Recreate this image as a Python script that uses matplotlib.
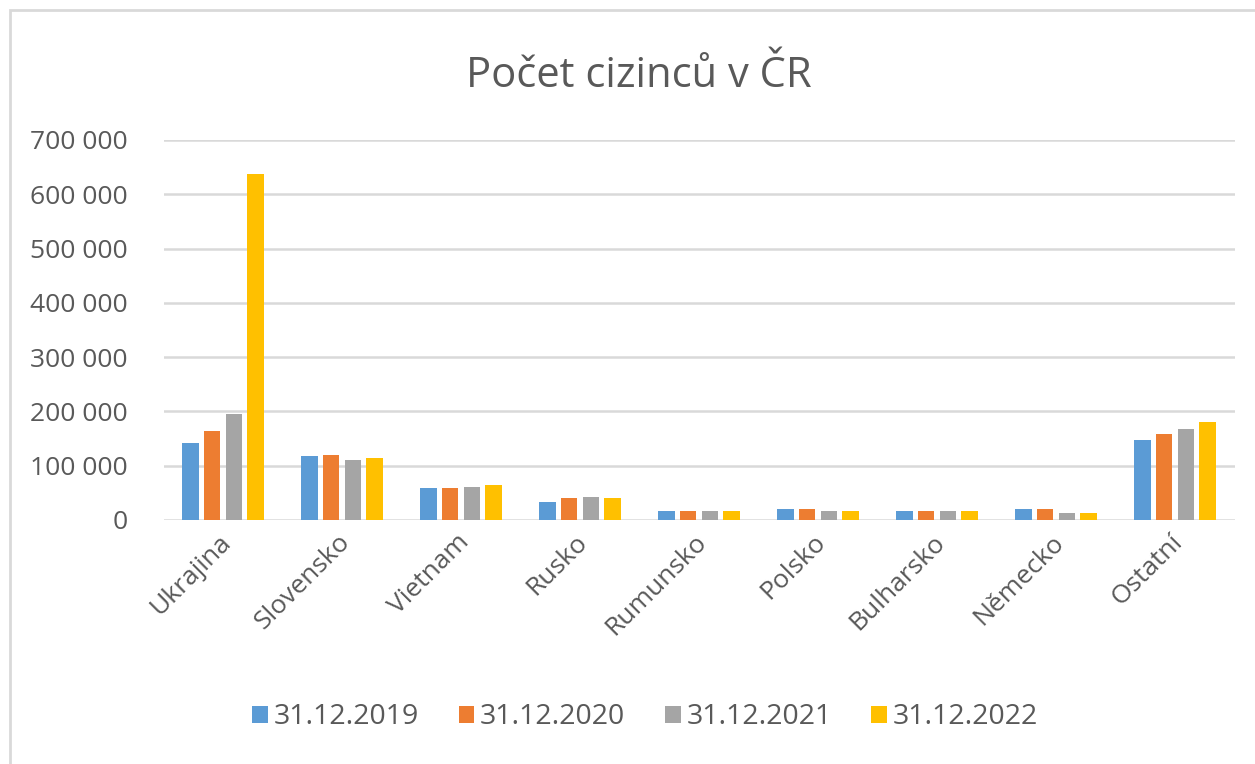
import numpy as np
import matplotlib
matplotlib.use("Agg")
import matplotlib.pyplot as plt
from matplotlib.patches import Rectangle
from matplotlib.ticker import FuncFormatter

plt.rcParams['font.family'] = ['Open Sans', 'DejaVu Sans']

# data
zeme = ['Ukrajina', 'Slovensko', 'Vietnam', 'Rusko', 'Rumunsko',
        'Polsko', 'Bulharsko', 'Německo', 'Ostatní']
roky = ['31.12.2019', '31.12.2020', '31.12.2021', '31.12.2022']
hodnoty_2019 = [142000, 117000, 58000, 34000, 17000, 20000, 17000, 20000, 148000]
hodnoty_2020 = [163000, 120000, 58000, 40000, 17000, 20000, 17000, 20000, 158000]
hodnoty_2021 = [196000, 111000, 61000, 43000, 17000, 17000, 17000, 12500, 168000]
hodnoty_2022 = [637000, 114000, 65000, 40000, 17000, 17000, 17000, 12500, 180000]
serie = [hodnoty_2019, hodnoty_2020, hodnoty_2021, hodnoty_2022]
barvy = ['#5B9BD5', '#ED7D31', '#A5A5A5', '#FFC000']

text_col = '#595959'

fig = plt.figure(figsize=[12.55, 7.64], dpi=100)
# outer chart frame
fig.patches.append(Rectangle((10 / 1255, -0.01), 1.0, 1 - 10 / 764 + 0.01,
                             transform=fig.transFigure, fill=False,
                             edgecolor='#D9D9D9', linewidth=2))

ax = fig.add_axes([0.1303, 0.3194, 0.8534, 0.4974])

x = np.arange(len(zeme))
krok = 0.182
sirka = 0.139
for i, (vals, c, lab) in enumerate(zip(serie, barvy, roky)):
    ax.bar(x + (i - 1.5) * krok, vals, width=sirka, color=c, label=lab, zorder=3)

ax.set_xlim(-0.5, len(zeme) - 0.5)
ax.set_ylim(0, 700000)
ax.set_yticks(np.arange(0, 700001, 100000))
ax.yaxis.set_major_formatter(FuncFormatter(lambda v, p: f"{int(v):,}".replace(',', ' ')))
ax.grid(axis='y', color='#D9D9D9', linewidth=1.8, zorder=0)
for s in ax.spines.values():
    s.set_visible(False)
ax.tick_params(axis='y', length=0, pad=26, labelsize=19, labelcolor=text_col)
ax.tick_params(axis='x', length=0, pad=7, labelsize=19, labelcolor=text_col)
ax.set_xticks(x - 0.04)
ax.set_xticklabels(zeme, rotation=45, ha='right', rotation_mode='anchor')

fig.text(0.509, 0.9, 'Počet cizinců v ČR', ha='center', va='center',
         fontsize=30, color=text_col)

leg = fig.legend(loc='center', bbox_to_anchor=(0.514, 0.061), ncol=4, frameon=False,
                 fontsize=20.5, handlelength=0.55, handleheight=0.55,
                 handletextpad=0.2, columnspacing=1.4)
for t in leg.get_texts():
    t.set_color(text_col)

fig.savefig('out.png', dpi=100)
